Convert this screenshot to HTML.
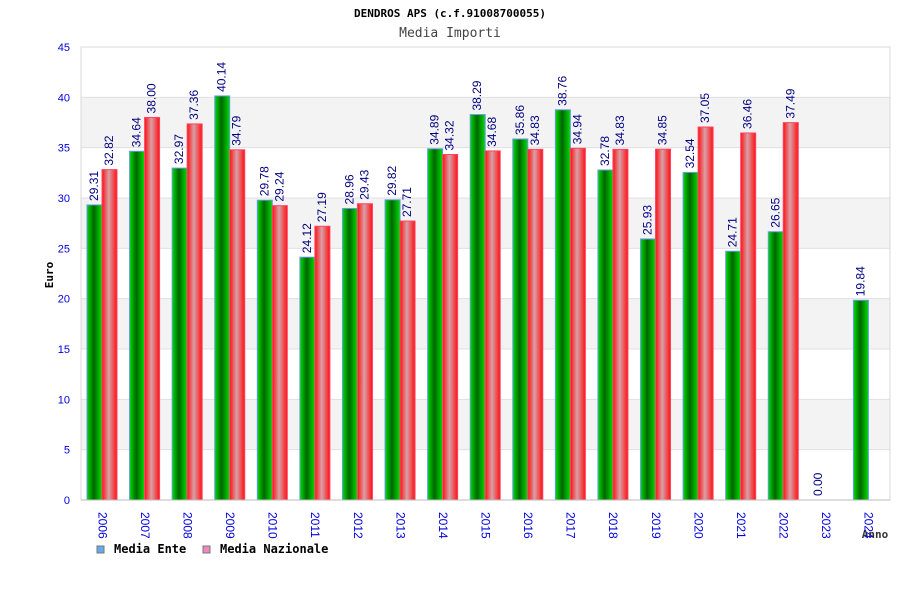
<!DOCTYPE html>
<html><head><meta charset="utf-8"><style>body{margin:0;background:#fff}svg{display:block;font-family:"DejaVu Sans Mono","Liberation Mono",monospace}</style></head>
<body>
<svg id="c" width="900" height="600" xmlns="http://www.w3.org/2000/svg">
<defs>
<linearGradient id="gg" x1="0" x2="1"><stop offset="0" stop-color="#00dd00"/><stop offset="0.45" stop-color="#006600"/><stop offset="1" stop-color="#00dd00"/></linearGradient>
<linearGradient id="rg" x1="0" x2="1"><stop offset="0" stop-color="#ff1010"/><stop offset="0.45" stop-color="#d8a0a8"/><stop offset="1" stop-color="#ff1010"/></linearGradient>
</defs>
<text x="450" y="17" text-anchor="middle" font-size="11" font-weight="bold">DENDROS APS (c.f.91008700055)</text>
<text x="450" y="37" text-anchor="middle" font-size="13" fill="#444">Media Importi</text>
<text transform="translate(53,275) rotate(-90)" text-anchor="middle" font-size="11" font-weight="bold">Euro</text>
<text x="875" y="538" text-anchor="middle" font-size="11" font-weight="bold" fill="#333">Anno</text>
<g id="plot"></g>
<g>
<rect x="97" y="546" width="7" height="7" fill="#66aaee" stroke="#777"/>
<text x="114" y="553" font-size="12" font-weight="bold">Media Ente</text>
<rect x="203" y="546" width="7" height="7" fill="#ee88bb" stroke="#777"/>
<text x="220" y="553" font-size="12" font-weight="bold">Media Nazionale</text>
</g>
</svg>
<script>
const years=["2006","2007","2008","2009","2010","2011","2012","2013","2014","2015","2016","2017","2018","2019","2020","2021","2022","2023","2024"];
const ente=[29.31,34.64,32.97,40.14,29.78,24.12,28.96,29.82,34.89,38.29,35.86,38.76,32.78,25.93,32.54,24.71,26.65,0.00,19.84];
const nazionale=[32.82,38.00,37.36,34.79,29.24,27.19,29.43,27.71,34.32,34.68,34.83,34.94,34.83,34.85,37.05,36.46,37.49,null,null];
const yTicks=[0,5,10,15,20,25,30,35,40,45];
const NS="http://www.w3.org/2000/svg";
const L=81,R=890,T=47,B=500,yMax=45;
const y=v=>B-(v/yMax)*(B-T);
const step=(R-L)/years.length;
const x=i=>L+i*step;
const g=document.getElementById('plot');
function mk(t,a){const e=document.createElementNS(NS,t);for(const k in a)e.setAttribute(k,a[k]);g.appendChild(e);return e;}
for(let i=0;i<yTicks.length-1;i++){
 const r=mk('rect',{x:L,y:y(yTicks[i+1]),width:R-L,height:y(yTicks[i])-y(yTicks[i+1]),fill:i%2?'#f3f3f3':'#fff'});
 
 
}
yTicks.forEach(v=>{
 const l=mk('line',{x1:L,x2:R,y1:y(v),y2:y(v),stroke:'#e0e0e0'});
 
 
 const t=mk('text',{x:L-11,y:y(v)+4,'text-anchor':'end','font-size':11,fill:'#0000dd','font-family':'Liberation Sans, sans-serif'});
 t.textContent=v;
 
 
});
const fr=mk('rect',{x:L,y:T,width:R-L,height:B-T,fill:'none',stroke:'#d8d8d8'});


function bar(i,v,off,fill,stroke,name){
 if(v===null)return;
 const bx=x(i)+off,by=y(v);
 const r=mk('rect',{x:bx,y:by,width:15,height:B-by,fill:fill,stroke:stroke,'stroke-width':1});
 
 
 const t=mk('text',{transform:`translate(${bx+11},${by-4}) rotate(-90)`,'font-size':12,fill:'#000080','font-family':'Liberation Sans, sans-serif'});
 t.textContent=v.toFixed(2);
 
 
}
years.forEach((yr,i)=>{
 bar(i,ente[i],6,'url(#gg)','#6699ee','bar-ente-'+yr);
 bar(i,nazionale[i],21,'url(#rg)','#ff4466','bar-nazionale-'+yr);
 const t=mk('text',{transform:`translate(${x(i)+step/2-4},512) rotate(90)`,'font-size':12,fill:'#0000dd','font-family':'Liberation Sans, sans-serif'});
 t.textContent=yr;
 
 
});
const ax=mk('line',{x1:L,x2:R,y1:B,y2:B,stroke:'#bbb'});


</script>
</body></html>
